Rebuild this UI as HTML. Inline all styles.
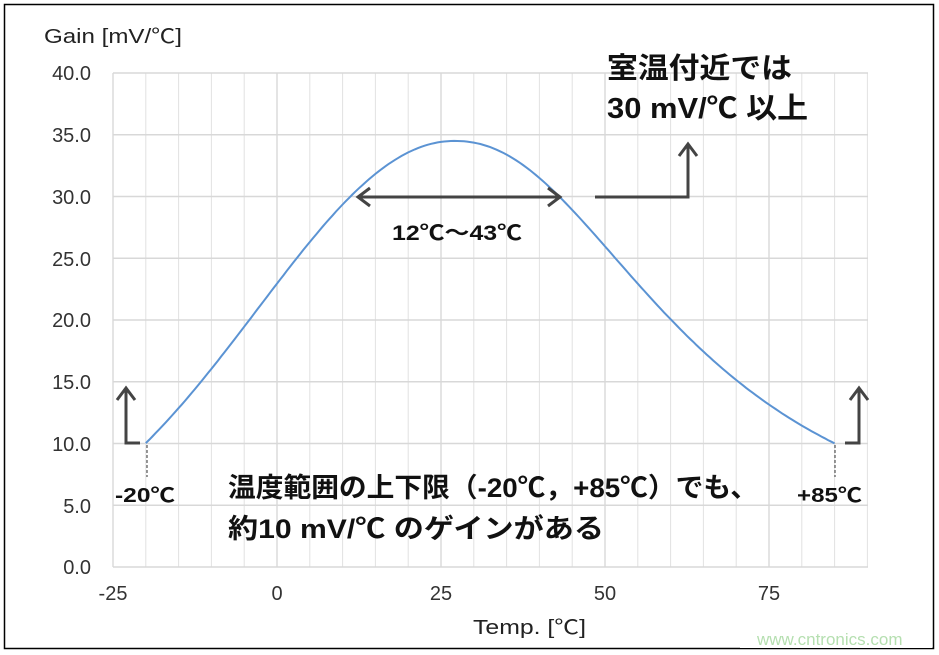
<!DOCTYPE html>
<html><head><meta charset="utf-8"><style>
html,body{margin:0;padding:0;background:#fff;width:939px;height:655px;overflow:hidden}
svg text{font-family:"Liberation Sans","Noto Sans CJK JP",sans-serif}
</style></head><body>
<svg id="s" width="939" height="655" xmlns="http://www.w3.org/2000/svg">
<rect x="4.5" y="4.5" width="929" height="644" fill="#fff" stroke="#000" stroke-width="1.5"/>
<g id="grid"></g>
<path id="curve" fill="none" stroke="#5b93d3" stroke-width="2"/>
<g fill="#333" font-size="20" text-anchor="end">
<text x="91" y="80">40.0</text><text x="91" y="142">35.0</text><text x="91" y="204">30.0</text>
<text x="91" y="266">25.0</text><text x="91" y="327">20.0</text><text x="91" y="389">15.0</text>
<text x="91" y="451">10.0</text><text x="91" y="513">5.0</text><text x="91" y="574">0.0</text>
</g>
<g fill="#333" font-size="20" text-anchor="middle">
<text x="113" y="600">-25</text><text x="277" y="600">0</text><text x="441" y="600">25</text>
<text x="605" y="600">50</text><text x="769" y="600">75</text>
</g>
<text x="473" y="634" font-size="20" fill="#222" textLength="113" lengthAdjust="spacingAndGlyphs">Temp. [℃]</text>
<text x="44" y="43" font-size="20" fill="#222" textLength="138" lengthAdjust="spacingAndGlyphs">Gain [mV/℃]</text>
<g stroke="#444" stroke-width="3" fill="none">
<line x1="360" y1="197" x2="558" y2="197"/>
<polyline points="370,188 358,197 370,206"/>
<polyline points="548,188 560,197 548,206"/>
<polyline points="595,197 688,197 688,146"/>
<polyline points="679,156 688,144 697,156"/>
<polyline points="140,443 126,443 126,390"/>
<polyline points="117,400 126,388 135,400"/>
<polyline points="845,443 859,443 859,390"/>
<polyline points="850,400 859,388 868,400"/>
</g>
<g stroke="#333" stroke-width="1" stroke-dasharray="3,2">
<line x1="147" y1="445" x2="147" y2="477"/><line x1="835" y1="445" x2="835" y2="477"/>
</g>
<g fill="#111" font-weight="bold">
<text x="607" y="78" font-size="29" textLength="185" lengthAdjust="spacingAndGlyphs">室温付近では</text>
<text x="607" y="118" font-size="29" textLength="201" lengthAdjust="spacingAndGlyphs">30 mV/℃ 以上</text>
<text x="392" y="240" font-size="21" textLength="130" lengthAdjust="spacingAndGlyphs">12℃～43℃</text>
<text x="115" y="502" font-size="20" textLength="60" lengthAdjust="spacingAndGlyphs">-20℃</text>
<text x="797" y="502" font-size="20" textLength="65" lengthAdjust="spacingAndGlyphs">+85℃</text>
<text x="228" y="497" font-size="27" textLength="530" lengthAdjust="spacingAndGlyphs">温度範囲の上下限（-20℃，+85℃）でも、</text>
<text x="228" y="538" font-size="27" textLength="376" lengthAdjust="spacingAndGlyphs">約10 mV/℃ のゲインがある</text>
</g>
<rect x="740" y="624" width="192" height="24" fill="#fff"/>
<text x="757" y="645" font-size="17" fill="#b5dfb0">www.cntronics.com</text>
</svg>
<script>
var X=v=>113+(v+25)*6.56, Y=v=>567-v*12.35;
var g=document.getElementById('grid'),h='';
for(var v=-25;v<=90;v+=5){var x=X(v);h+='<line x1="'+x+'" y1="73" x2="'+x+'" y2="567" stroke="'+(v%25==0?'#c8c8c8':'#e2e2e2')+'" stroke-width="1"/>';}
for(var y=0;y<=40;y+=5){h+='<line x1="113" y1="'+Y(y)+'" x2="868" y2="'+Y(y)+'" stroke="#d8d8d8" stroke-width="1.5"/>';}
g.innerHTML=h;
function f(t){var dx=t-27;if(dx<0)return 34.5*Math.exp(-dx*dx/(2*29.9*29.9));return 34.5/(1+Math.pow(dx/38.4,2.17));}
var d='';
for(var t=-20;t<=85.001;t+=0.5){d+=(d?'L':'M')+X(t).toFixed(1)+','+Y(f(t)).toFixed(1);}
document.getElementById('curve').setAttribute('d',d);
</script>
</body></html>
